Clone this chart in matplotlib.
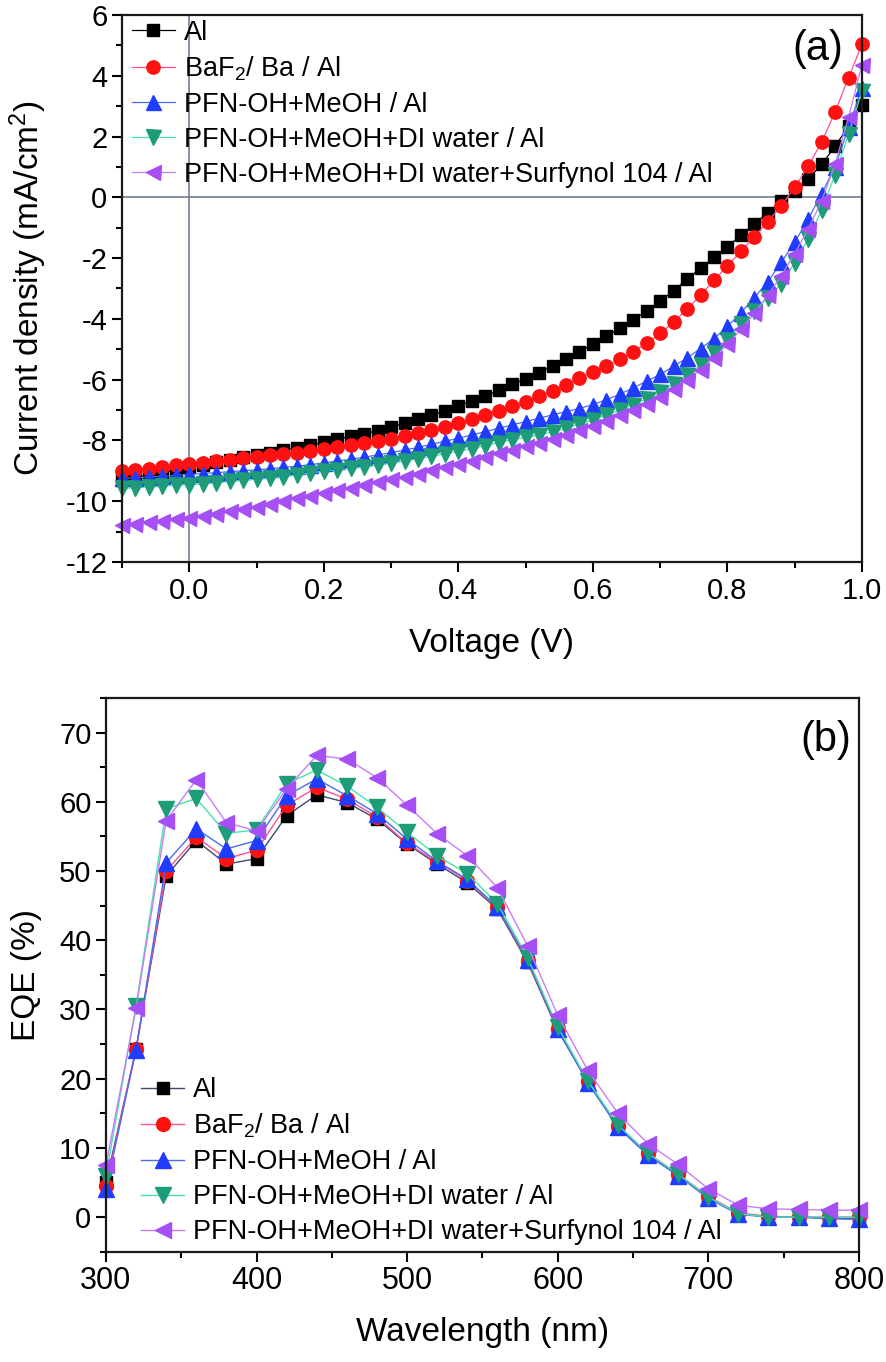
import matplotlib
matplotlib.use('Agg')
import matplotlib.pyplot as plt
from matplotlib.ticker import MultipleLocator

plt.rcParams['font.family'] = ['Liberation Sans', 'DejaVu Sans']
plt.rcParams['mathtext.fontset'] = 'custom'
plt.rcParams['mathtext.rm'] = 'Liberation Sans'
plt.rcParams['mathtext.it'] = 'Liberation Sans:italic'
plt.rcParams['axes.unicode_minus'] = False

labels = ['Al', 'BaF$_2$/ Ba / Al', 'PFN-OH+MeOH / Al',
          'PFN-OH+MeOH+DI water / Al', 'PFN-OH+MeOH+DI water+Surfynol 104 / Al']

# (a) J-V curves
voltage = [-0.10, -0.08, -0.06, -0.04, -0.02, 0.00, 0.02, 0.04, 0.06, 0.08,
           0.10, 0.12, 0.14, 0.16, 0.18, 0.20, 0.22, 0.24, 0.26, 0.28,
           0.30, 0.32, 0.34, 0.36, 0.38, 0.40, 0.42, 0.44, 0.46, 0.48,
           0.50, 0.52, 0.54, 0.56, 0.58, 0.60, 0.62, 0.64, 0.66, 0.68,
           0.70, 0.72, 0.74, 0.76, 0.78, 0.80, 0.82, 0.84, 0.86, 0.88,
           0.90, 0.92, 0.94, 0.96, 0.98, 1.00]

j_al = [-9.30, -9.22, -9.14, -9.06, -8.97, -8.88, -8.80, -8.72, -8.64, -8.56,
        -8.48, -8.40, -8.32, -8.24, -8.16, -8.06, -7.96, -7.87, -7.78, -7.68,
        -7.56, -7.44, -7.31, -7.17, -7.02, -6.86, -6.70, -6.53, -6.35, -6.16,
        -5.97, -5.77, -5.55, -5.32, -5.08, -4.83, -4.57, -4.31, -4.03, -3.74,
        -3.42, -3.07, -2.70, -2.33, -1.98, -1.62, -1.25, -0.88, -0.50, -0.12,
        0.22, 0.60, 1.08, 1.68, 2.34, 3.05]

j_baf2 = [-9.00, -8.97, -8.93, -8.88, -8.82, -8.77, -8.73, -8.68, -8.63, -8.58,
          -8.54, -8.49, -8.45, -8.40, -8.34, -8.28, -8.22, -8.15, -8.09, -8.02,
          -7.94, -7.85, -7.76, -7.66, -7.56, -7.44, -7.31, -7.17, -7.03, -6.88,
          -6.72, -6.55, -6.37, -6.17, -5.96, -5.75, -5.55, -5.33, -5.08, -4.80,
          -4.48, -4.10, -3.68, -3.22, -2.73, -2.26, -1.78, -1.30, -0.80, -0.28,
          0.33, 1.02, 1.82, 2.80, 3.94, 5.03]

j_meoh = [-9.25, -9.23, -9.20, -9.18, -9.15, -9.12, -9.09, -9.06, -9.03, -9.00,
          -8.97, -8.93, -8.89, -8.85, -8.80, -8.74, -8.68, -8.62, -8.55, -8.48,
          -8.40, -8.32, -8.23, -8.13, -8.03, -7.93, -7.82, -7.71, -7.60, -7.49,
          -7.38, -7.27, -7.16, -7.05, -6.95, -6.82, -6.66, -6.48, -6.27, -6.05,
          -5.83, -5.56, -5.28, -4.98, -4.65, -4.25, -3.80, -3.30, -2.78, -2.14,
          -1.48, -0.72, 0.12, 1.00, 2.30, 3.60]

j_water = [-9.58, -9.56, -9.54, -9.51, -9.48, -9.46, -9.43, -9.39, -9.35, -9.31,
           -9.27, -9.23, -9.19, -9.13, -9.07, -9.01, -8.97, -8.92, -8.87, -8.82,
           -8.74, -8.67, -8.60, -8.52, -8.44, -8.36, -8.27, -8.17, -8.07, -7.98,
           -7.90, -7.82, -7.72, -7.60, -7.46, -7.32, -7.17, -7.01, -6.83, -6.63,
           -6.40, -6.14, -5.85, -5.52, -5.13, -4.68, -4.18, -3.75, -3.30, -2.85,
           -2.15, -1.38, -0.42, 0.75, 2.07, 3.50]

j_surf = [-10.78, -10.74, -10.69, -10.65, -10.60, -10.55, -10.48, -10.41, -10.33, -10.26,
          -10.18, -10.09, -10.00, -9.91, -9.82, -9.72, -9.63, -9.55, -9.46, -9.37,
          -9.28, -9.19, -9.09, -8.99, -8.89, -8.78, -8.67, -8.55, -8.43, -8.31,
          -8.19, -8.07, -7.94, -7.81, -7.66, -7.51, -7.35, -7.18, -7.00, -6.79,
          -6.56, -6.30, -6.00, -5.67, -5.28, -4.84, -4.35, -3.82, -3.22, -2.58,
          -1.85, -1.05, -0.12, 1.09, 2.63, 4.37]

# (b) EQE spectra
wavelength = [300, 320, 340, 360, 380, 400, 420, 440, 460, 480, 500, 520, 540,
              560, 580, 600, 620, 640, 660, 680, 700, 720, 740, 760, 780, 800]

eqe_al = [5.0, 24.3, 49.3, 54.4, 51.0, 51.8, 58.0, 61.0, 59.9, 57.5, 53.9, 51.0, 48.3,
          44.5, 36.8, 27.0, 19.5, 13.0, 9.0, 6.0, 2.8, 0.5, 0.0, 0.0, -0.2, -0.3]
eqe_baf2 = [4.5, 24.3, 50.0, 54.9, 51.8, 53.0, 59.5, 62.1, 60.4, 57.8, 54.0, 51.3, 48.6,
            44.8, 37.0, 27.2, 19.6, 13.2, 9.2, 6.2, 3.0, 0.6, 0.1, 0.0, 0.0, 0.0]
eqe_meoh = [4.0, 24.2, 51.2, 56.1, 53.2, 54.4, 60.9, 63.3, 60.9, 58.3, 54.6, 51.4, 48.8,
            44.8, 37.2, 27.2, 19.4, 13.0, 8.9, 6.0, 2.7, 0.4, 0.0, 0.0, -0.2, -0.3]
eqe_water = [6.0, 30.5, 59.0, 60.5, 55.4, 56.0, 62.6, 64.6, 62.3, 59.2, 55.6, 52.2, 49.6,
             45.3, 37.5, 27.5, 19.7, 13.3, 9.2, 6.2, 2.9, 0.5, 0.0, 0.0, 0.0, 0.0]
eqe_surf = [7.5, 30.2, 57.3, 63.2, 57.0, 55.8, 61.9, 66.7, 66.2, 63.5, 59.5, 55.4, 52.2,
            47.6, 39.2, 29.2, 21.2, 15.0, 10.6, 7.6, 4.1, 1.7, 1.2, 1.1, 1.0, 1.0]

markers = ['s', 'o', '^', 'v', '<']
ms_a = [8.5, 9.6, 10.8, 10.8, 10.8]
ms_b = [9.0, 10.0, 12.0, 12.0, 12.0]
face_colors = ['#000000', '#ff1111', '#1f3cff', '#1e9b78', '#a54ff5']
line_a = ['#000000', '#ff4f95', '#4a6cf0', '#45e3ad', '#c97cf7']
line_b = ['#3d4a6b', '#ff4f95', '#4a6cf0', '#45e3ad', '#c97cf7']

fig = plt.figure(figsize=(8.86, 13.62), dpi=100)
ax1 = fig.add_axes([0.1377, 0.5874, 0.8352, 0.4016])
ax2 = fig.add_axes([0.1196, 0.0810, 0.8497, 0.4065])

# ---- (a) ----
ax1.axhline(0, color='#6f8090', lw=1.2, zorder=0)
ax1.axvline(0, color='#6f8090', lw=1.2, zorder=0)
for i, jv in enumerate([j_al, j_baf2, j_meoh, j_water, j_surf]):
    ax1.plot(voltage, jv, marker=markers[i], ms=ms_a[i], color=line_a[i], lw=0.9,
             mfc=face_colors[i], mec=face_colors[i], label=labels[i], clip_on=False)

ax1.set_xlim(-0.1, 1.0)
ax1.set_ylim(-12, 6)
ax1.xaxis.set_minor_locator(MultipleLocator(0.1))
ax1.yaxis.set_major_locator(MultipleLocator(2))
ax1.yaxis.set_minor_locator(MultipleLocator(1))
ax1.set_xticks([0.0, 0.2, 0.4, 0.6, 0.8, 1.0])
ax1.set_xticklabels(['0.0', '0.2', '0.4', '0.6', '0.8', '1.0'])
ax1.set_xlabel('Voltage (V)', fontsize=24, labelpad=17)
ax1.set_ylabel('Current density (mA/cm$^2$)', fontsize=24, labelpad=12)
ax1.text(0.975, 0.975, '(a)', transform=ax1.transAxes, fontsize=30, ha='right', va='top')
ax1.legend(loc='upper left', bbox_to_anchor=(-0.0015, 1.0115), frameon=False, fontsize=19.5,
           handlelength=1.6, handletextpad=0.32, labelspacing=0.33, borderaxespad=0)

# ---- (b) ----
for i, eq in enumerate([eqe_al, eqe_baf2, eqe_meoh, eqe_water, eqe_surf]):
    ax2.plot(wavelength, eq, marker=markers[i], ms=ms_b[i], color=line_b[i], lw=1.0,
             mfc=face_colors[i], mec=face_colors[i], label=labels[i], clip_on=False)

ax2.set_xlim(300, 800)
ax2.set_ylim(-5, 75)
ax2.xaxis.set_major_locator(MultipleLocator(100))
ax2.xaxis.set_minor_locator(MultipleLocator(50))
ax2.yaxis.set_minor_locator(MultipleLocator(5))
ax2.set_yticks([0, 10, 20, 30, 40, 50, 60, 70])
ax2.set_xlabel('Wavelength (nm)', fontsize=24, labelpad=15)
ax2.set_ylabel('EQE (%)', fontsize=24, labelpad=12)
ax2.text(0.99, 0.96, '(b)', transform=ax2.transAxes, fontsize=30, ha='right', va='top')
ax2.legend(loc='lower left', bbox_to_anchor=(0.032, -0.008), frameon=False, fontsize=19.5,
           handlelength=1.6, handletextpad=0.32, labelspacing=0.33, borderaxespad=0)

for ax in (ax1, ax2):
    for sp in ax.spines.values():
        sp.set_linewidth(1.6)
        sp.set_color('#1a1a1a')
    ax.tick_params(which='major', direction='out', length=7, width=1.5, labelsize=21, top=False, right=False)
    ax.tick_params(which='minor', direction='out', length=4, width=1.5, top=False, right=False)
ax2.tick_params(axis='x', labelsize=22)

fig.savefig('out.png', dpi=100)
